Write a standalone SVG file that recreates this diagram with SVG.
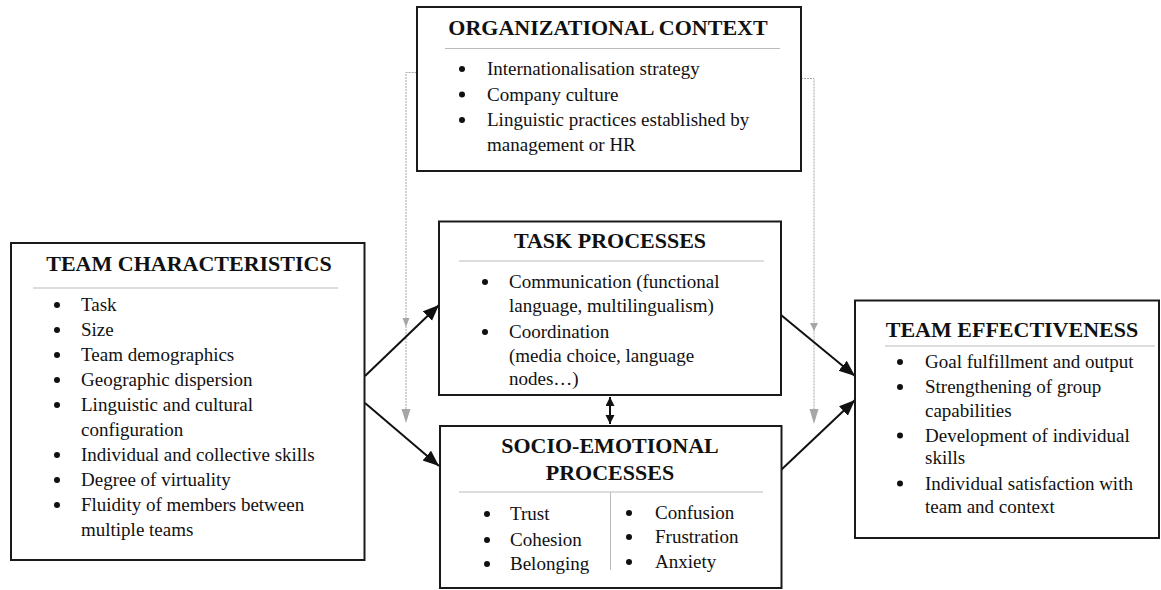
<svg xmlns="http://www.w3.org/2000/svg" width="1161" height="590" viewBox="0 0 1161 590">
<style>
.box{fill:#fff;stroke:#1a1a1a;stroke-width:2}
.t{font-family:'Liberation Serif','DejaVu Serif',serif;font-size:22px;font-weight:bold;fill:#111;text-anchor:middle}
.b{font-family:'Liberation Serif','DejaVu Serif',serif;font-size:19px;fill:#111}
.sep{stroke:#bbb;stroke-width:1}
.dot{fill:#111}
.conn{stroke:#111;stroke-width:2;fill:none}
.dash{stroke:#a6a6a6;stroke-width:1;stroke-dasharray:2 1;fill:none}
.gh{fill:#a6a6a6}
</style>
<defs>
<marker id="ah" markerUnits="userSpaceOnUse" markerWidth="18" markerHeight="14" refX="16" refY="6.5" orient="auto">
<path d="M0,0 L16,6.5 L0,13 z" fill="#111"/>
</marker>
<marker id="sh" markerUnits="userSpaceOnUse" markerWidth="10" markerHeight="10" refX="9" refY="4.5" orient="auto-start-reverse">
<path d="M0,0 L9,4.5 L0,9 z" fill="#111"/>
</marker>
</defs>

<g id="connectors">
<polyline class="dash" points="416.5,72.5 406,72.5 406,420"/>
<polygon class="gh" points="402.5,318 409.5,318 406,327"/>
<polygon class="gh" points="401.5,409 410.5,409 406,423"/>
<polyline class="dash" points="801,78.5 814,78.5 814,420"/>
<polygon class="gh" points="810,323 818,323 814,331"/>
<polygon class="gh" points="809.5,409 818.5,409 814,424"/>
<line class="conn" x1="365" y1="376" x2="439" y2="305" marker-end="url(#ah)"/>
<line class="conn" x1="365" y1="403" x2="439" y2="466" marker-end="url(#ah)"/>
<line class="conn" x1="781" y1="315" x2="855" y2="376" marker-end="url(#ah)"/>
<line class="conn" x1="781" y1="470" x2="855" y2="400" marker-end="url(#ah)"/>
<line class="conn" x1="610" y1="397" x2="610" y2="424" marker-start="url(#sh)" marker-end="url(#sh)"/>
</g>

<g id="org-context">
<rect class="box" x="417" y="7" width="384" height="164"/>
<text class="t" x="608" y="35">ORGANIZATIONAL CONTEXT</text>
<line class="sep" x1="445" y1="48.5" x2="780" y2="48.5"/>
<circle class="dot" cx="462" cy="69" r="3"/>
<text class="b" x="487" y="75">Internationalisation strategy</text>
<circle class="dot" cx="462" cy="94.5" r="3"/>
<text class="b" x="487" y="100.5">Company culture</text>
<circle class="dot" cx="462" cy="120" r="3"/>
<text class="b" x="487" y="126">Linguistic practices established by</text>
<text class="b" x="487" y="151">management or HR</text>
</g>

<g id="team-characteristics">
<rect class="box" x="11" y="243" width="353.5" height="317"/>
<text class="t" x="189" y="271">TEAM CHARACTERISTICS</text>
<line class="sep" x1="33" y1="288" x2="338" y2="288"/>
<circle class="dot" cx="57" cy="305" r="3"/>
<text class="b" x="81" y="311">Task</text>
<circle class="dot" cx="57" cy="330" r="3"/>
<text class="b" x="81" y="336">Size</text>
<circle class="dot" cx="57" cy="355" r="3"/>
<text class="b" x="81" y="361">Team demographics</text>
<circle class="dot" cx="57" cy="380" r="3"/>
<text class="b" x="81" y="386">Geographic dispersion</text>
<circle class="dot" cx="57" cy="405" r="3"/>
<text class="b" x="81" y="411">Linguistic and cultural</text>
<text class="b" x="81" y="436">configuration</text>
<circle class="dot" cx="57" cy="455" r="3"/>
<text class="b" x="81" y="461">Individual and collective skills</text>
<circle class="dot" cx="57" cy="480" r="3"/>
<text class="b" x="81" y="486">Degree of virtuality</text>
<circle class="dot" cx="57" cy="505" r="3"/>
<text class="b" x="81" y="511">Fluidity of members between</text>
<text class="b" x="81" y="536">multiple teams</text>
</g>

<g id="task-processes">
<rect class="box" x="439" y="221.5" width="342" height="173.5"/>
<text class="t" x="610" y="248">TASK PROCESSES</text>
<line class="sep" x1="459" y1="261" x2="764" y2="261"/>
<circle class="dot" cx="485" cy="282" r="3"/>
<text class="b" x="509" y="288">Communication (functional</text>
<text class="b" x="509" y="312">language, multilingualism)</text>
<circle class="dot" cx="485" cy="332" r="3"/>
<text class="b" x="509" y="338">Coordination</text>
<text class="b" x="509" y="362">(media choice, language</text>
<text class="b" x="509" y="385">nodes…)</text>
</g>

<g id="socio-emotional-processes">
<rect class="box" x="440" y="426" width="341.5" height="162"/>
<text class="t" x="610" y="453">SOCIO-EMOTIONAL</text>
<text class="t" x="610" y="480">PROCESSES</text>
<line class="sep" x1="459" y1="492" x2="763" y2="492"/>
<line class="sep" x1="610.5" y1="492" x2="610.5" y2="570"/>
<circle class="dot" cx="487" cy="514" r="3"/>
<text class="b" x="510" y="520">Trust</text>
<circle class="dot" cx="487" cy="540" r="3"/>
<text class="b" x="510" y="546">Cohesion</text>
<circle class="dot" cx="487" cy="564" r="3"/>
<text class="b" x="510" y="570">Belonging</text>
<circle class="dot" cx="629" cy="513" r="3"/>
<text class="b" x="655" y="519">Confusion</text>
<circle class="dot" cx="629" cy="537" r="3"/>
<text class="b" x="655" y="543">Frustration</text>
<circle class="dot" cx="629" cy="562" r="3"/>
<text class="b" x="655" y="568">Anxiety</text>
</g>

<g id="team-effectiveness">
<rect class="box" x="855" y="300.5" width="304" height="237.5"/>
<text class="t" x="1012" y="336.5">TEAM EFFECTIVENESS</text>
<line class="sep" x1="885" y1="346" x2="1155" y2="346"/>
<circle class="dot" cx="900" cy="362" r="3"/>
<text class="b" x="925" y="368">Goal fulfillment and output</text>
<circle class="dot" cx="900" cy="387" r="3"/>
<text class="b" x="925" y="393">Strengthening of group</text>
<text class="b" x="925" y="416.5">capabilities</text>
<circle class="dot" cx="900" cy="435.5" r="3"/>
<text class="b" x="925" y="441.5">Development of individual</text>
<text class="b" x="925" y="464">skills</text>
<circle class="dot" cx="900" cy="483.5" r="3"/>
<text class="b" x="925" y="489.5">Individual satisfaction with</text>
<text class="b" x="925" y="513">team and context</text>
</g>
</svg>
